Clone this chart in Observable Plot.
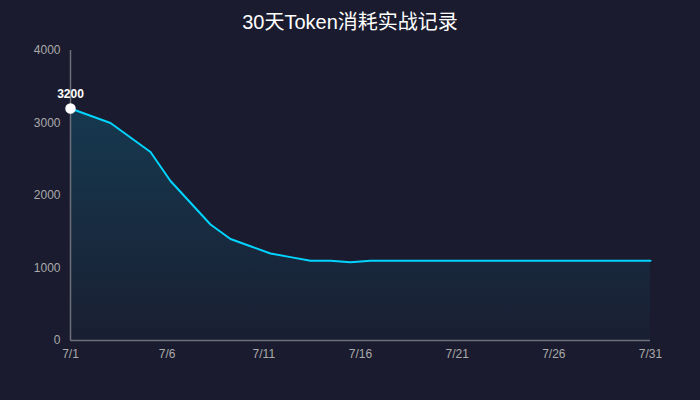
<!DOCTYPE html>
<html><head><meta charset="utf-8">
<script src="https://cdn.jsdelivr.net/npm/d3@7"></script>
<script src="https://cdn.jsdelivr.net/npm/@observablehq/plot@0.6"></script>
<style>
html,body{margin:0;padding:0;background:#1a1b2e;}
#title{height:40px;line-height:45px;text-align:center;color:#fff;font-size:20px;font-family:"Liberation Sans","Noto Sans CJK SC",sans-serif;}
</style></head><body>
<div id="title">30天Token消耗实战记录</div>
<div id="chart"></div>
<script>
// 30 daily records (index 0..29)
const tokens = [3200,3100,3000,2800,2600,2200,1900,1600,1400,1300,
                1200,1150,1100,1100,1080,1100,1100,1100,1100,1100,
                1100,1100,1100,1100,1100,1100,1100,1100,1100,1100];
const xTickLabels = ["7/1","7/6","7/11","7/16","7/21","7/26","7/31"];
const yTicks = [0,1000,2000,3000,4000];
const highlightLabel = "3200";

const data = tokens.map((v, i) => ({i, v}));
const lastIdx = tokens.length - 1;
const xTickPos = xTickLabels.map((_, k) => k * lastIdx / (xTickLabels.length - 1));

const plot = Plot.plot({
  width: 700, height: 360,
  marginLeft: 70, marginRight: 50, marginTop: 10, marginBottom: 60,
  style: {background: "transparent", color: "#aaa", fontSize: "12px", fontFamily: "'Liberation Sans','Noto Sans CJK SC',sans-serif"},
  x: {domain: [0, lastIdx], label: null},
  y: {domain: [0, 4000], label: null},
  marks: [
    Plot.areaY(data, {x: "i", y: "v", fill: "url(#areaGrad)"}),
    Plot.ruleX([0], {stroke: "#6e7079", strokeWidth: 1.5}),
    Plot.ruleY([0], {stroke: "#6e7079", strokeWidth: 1.5}),
    Plot.lineY(data, {x: "i", y: "v", stroke: "#00d4ff", strokeWidth: 2}),
    Plot.dot([data[0]], {x: "i", y: "v", r: 4.5, fill: "#fff", stroke: "#fff"}),
    Plot.text([data[0]], {x: "i", y: "v", text: () => highlightLabel, dy: -14, fill: "#fff", fontWeight: "bold", fontSize: 12}),
    Plot.axisY(yTicks, {tickSize: 0, tickPadding: 10, fill: "#aaa", fontSize: 12, label: null, tickFormat: d3.format("d")}),
    Plot.axisX(xTickPos, {tickSize: 0, tickPadding: 9, fill: "#aaa", fontSize: 12, label: null, tickFormat: (d, k) => xTickLabels[k]})
  ]
});

const svg = d3.select(plot);
const defs = svg.insert("defs", ":first-child");
const g = defs.append("linearGradient").attr("id", "areaGrad").attr("x1", 0).attr("y1", 0).attr("x2", 0).attr("y2", 1);
g.append("stop").attr("offset", "0%").attr("stop-color", "#00d4ff").attr("stop-opacity", 0.16);
g.append("stop").attr("offset", "100%").attr("stop-color", "#00d4ff").attr("stop-opacity", 0.02);
document.getElementById("chart").appendChild(plot);
</script>
</body></html>
